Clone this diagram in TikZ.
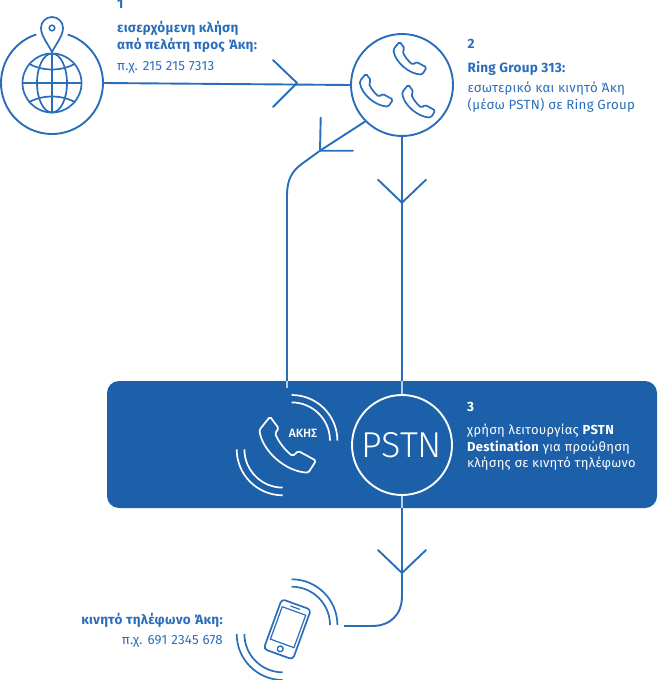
\documentclass[tikz,border=0pt]{standalone}
\usepackage{fontspec}
\setmainfont[LetterSpace=2]{Fira Sans}
\definecolor{lineblue}{HTML}{2A6EBB}
\definecolor{panelblue}{HTML}{1C60AA}
\definecolor{paleblue}{HTML}{B5CFEA}
\tikzset{
  conn/.style={draw=lineblue,line width=1.9pt},
  icon/.style={draw=lineblue,line width=1.7pt},
  iconw/.style={draw=white,line width=1.7pt},
  ringnode/.style={circle,inner sep=0pt,minimum size=102pt},
  lbl/.style={anchor=base west,inner sep=0pt,font=\fontsize{13.3}{15}\selectfont,text=lineblue},
  lblb/.style={lbl,font=\fontsize{13.5}{15}\selectfont\bfseries},
  wlbl/.style={lbl,text=white,font=\fontsize{13}{15}\selectfont},
  wlblb/.style={lblb,text=white},
  pics/handset/.style={code={
    \draw[#1,rounded corners=1.6pt] (-53,-85) -- (-27,-50) -- (-38,-35) .. controls (-25,-5) and (-5,18) .. (15,33)
      -- (32,18) -- (85,47) -- (62,83) .. controls (-5,80) and (-75,20) .. (-85,-45) -- cycle;
  }},
  pics/chevron/.style={code={
    \draw[conn,line cap=round] (-24,-23) -- (0,0) -- (24,-23);
  }}
}
\newcommand{\wavearcs}[5]{% style, cx1, cy1, cx2, cy2
  \draw[#1] (#2,#3-45.7) arc[start angle=90,end angle=0,radius=45.7pt];
  \draw[#1] (#2,#3-38.3) arc[start angle=90,end angle=0,radius=38.3pt];
  \draw[#1] (#4-46,#5) arc[start angle=180,end angle=270,radius=46pt];
  \draw[#1] (#4-38.3,#5) arc[start angle=180,end angle=270,radius=38.3pt];
}
\begin{document}
\begin{tikzpicture}[x=1pt,y=-1pt]
\useasboundingbox (0,0) rectangle (657,680);
% panel
\fill[panelblue,rounded corners=12pt] (107,381) rectangle (657,508);
% nodes
\node[ringnode] (globe) at (52,83) {};
\node[ringnode,draw=lineblue,line width=1.9pt] (ring) at (402,85) {};
\node[ringnode,draw=white,line width=1.9pt,minimum size=100pt] (pstn) at (402,445)
  {\fontsize{36}{38}\selectfont\fontspec{Fira Sans Light}\textcolor{white}{PSTN}};
% globe icon
\draw[icon,line width=1.9pt] ([shift={(72:51pt)}]globe.center) arc[start angle=72,end angle=-252,radius=51pt];
\begin{scope}[shift={(globe.center)}]
  \draw[icon] (0,0) circle[radius=29.5pt];
  \draw[icon] (0,0) ellipse[x radius=15pt,y radius=29.5pt];
  \draw[icon] (0,-29.5) -- (0,29.5);
  \draw[icon] (-29.5,0) -- (29.5,0);
  \draw[icon] (-23.3,-19.5) .. controls (-10,-11.5) and (10,-11.5) .. (23.3,-19.5);
  \draw[icon] (-23.3,19.5) .. controls (-10,11.5) and (10,11.5) .. (23.3,19.5);
  \draw[icon,line join=round] (0,-31) .. controls (-4,-39) and (-11,-47) .. (-11,-55)
     arc[start angle=180,end angle=0,radius=11pt]
     .. controls (11,-47) and (4,-39) .. (0,-31) -- cycle;
  \draw[icon,line width=1.5pt] (0,-55) circle[radius=2.8pt];
\end{scope}
% ring group handsets
\pic[scale=0.196] at (410,58.3) {handset=icon};
\pic[scale=0.196] at (376.3,90.3) {handset=icon};
\pic[scale=0.196] at (418.7,101.3) {handset=icon};
% panel handset
\pic[scale=0.3333] at (287.7,445) {handset=iconw};
\wavearcs{iconw}{291.7}{440.7}{282.7}{449.3}
\node[inner sep=0pt,text=white,font=\fontsize{12}{12}\selectfont\fontspec{Fira Sans Medium}] (akis) at (303,433) {ΑΚΗΣ};
% mobile
\begin{scope}[shift={(287.3,629.3)},rotate=-20]
  \draw[icon,rounded corners=3.5pt] (-15.5,-26.5) rectangle (15.5,26.5);
  \draw[icon,line width=1.2pt] (-12.5,-19.5) rectangle (12.5,15);
  \draw[icon,line width=1.2pt] (-5,-23) -- (5,-23);
  \draw[icon,line width=1.4pt] (0,20.8) circle[radius=2.9pt];
\end{scope}
\wavearcs{icon}{291.7}{625}{282.7}{634}
% connector coordinates
\coordinate (t1) at (297,83);
\coordinate (t2) at (320,150.7);
\coordinate (t3) at (402,202.7);
\coordinate (t4) at (402,573);
\coordinate (akisline) at (287,381);
\coordinate (akisend) at (287,388);
\coordinate (pstntop) at (402,381);
\coordinate (pstnbot) at (402,508);
\coordinate (mobend) at (344,626);
% connectors
\draw[conn] (globe.east) -- (ring.west);
\draw[conn,line cap=round,line join=round] (273,60) -- (t1) -- (273,107);
\draw[conn] (ring.south) -- (pstntop);
\pic at (t3) {chevron};
\draw[conn] (ring.south west) ++(-0.2,-0.2) -- (t2) -- (301.7,164) .. controls (292,171) and (287,180) .. (287,195) -- (akisline);
\draw[conn,line cap=round,line join=round] (320.7,117.7) -- (t2) -- (353,150.7);
\draw[paleblue,line width=1.9pt] (akisline) -- (akisend);
\draw[paleblue,line width=1.9pt] (pstntop) -- (pstn.north);
\draw[paleblue,line width=1.9pt] (pstn.south) -- (pstnbot);
\draw[conn] (pstnbot) -- (t4) -- (402,596) .. controls (402,615) and (390,626) .. (372,626) -- (mobend);
\pic at (t4) {chevron};
% labels
\node[lblb] (n1) at (117,9) {1};
\node[lblb] (a1) at (117,32.7) {εισερχόμενη κλήση};
\node[lblb] (a2) at (117,49.3) {από πελάτη προς Άκη:};
\node[lbl] (a3) at (117,70) {π.χ. 215 215 7313};
\node[lblb] (n2) at (467.5,48.5) {2};
\node[lblb] (b1) at (467.5,72) {Ring Group 313:};
\node[lbl] (b2) at (467.5,92.7) {εσωτερικό και κινητό Άκη};
\node[lbl] (b3) at (467.5,109.3) {(μέσω PSTN) σε Ring Group};
\node[wlblb] (n3) at (467,411) {3};
\node[wlbl] (c1) at (467,434) {χρήση λειτουργίας \textbf{PSTN}};
\node[wlbl] (c2) at (467,451) {\textbf{Destination} για προώθηση};
\node[wlbl] (c3) at (467,467.3) {κλήσης σε κινητό τηλέφωνο};
\node[lblb,anchor=base east] (d1) at (223,624) {κινητό τηλέφωνο Άκη:};
\node[lbl,anchor=base east] (d2) at (223,644.7) {π.χ. 691 2345 678};
\end{tikzpicture}
\end{document}
